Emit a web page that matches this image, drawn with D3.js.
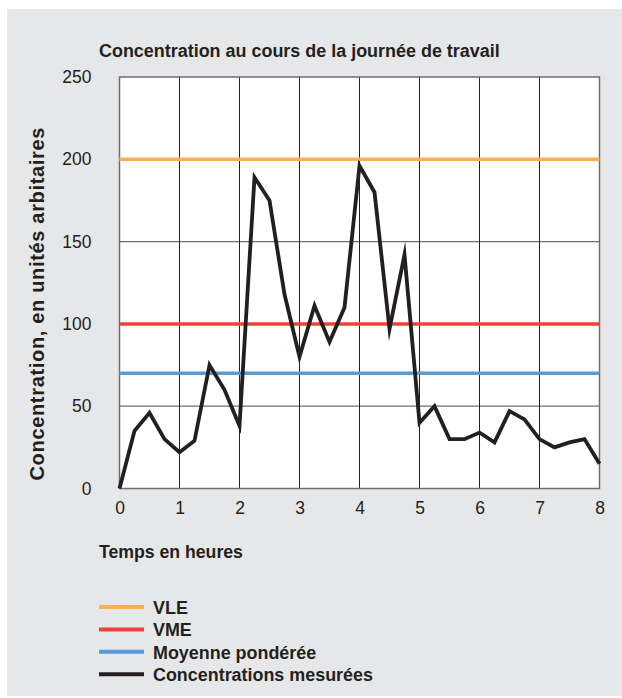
<!DOCTYPE html>
<html><head><meta charset="utf-8">
<script src="https://cdn.jsdelivr.net/npm/d3@7"></script>
<style>
html,body{margin:0;padding:0;background:#fff;}
svg text{font-family:"Liberation Sans",Arial,Helvetica,sans-serif;fill:#231f20;}
</style></head>
<body>
<svg id="chart" width="622" height="698"></svg>
<script>
const hours = [0,0.25,0.5,0.75,1,1.25,1.5,1.75,2,2.25,2.5,2.75,3,3.25,3.5,3.75,4,4.25,4.5,4.75,5,5.25,5.5,5.75,6,6.25,6.5,6.75,7,7.25,7.5,7.75,8];
const concentrations = [0,35,46,30,22,29,75,60,38,189,175,118,80,111,89,110,196,180,97,142,40,50,30,30,34,28,47,42,30,25,28,30,15];
const refNames = ["VLE","VME","Moyenne pondérée"];
const refValues = [200,100,70];
const refColors = ["#fbad5c","#ef4136","#5b9bd5"];
const lineColor = "#231f20";
const xTicks = [0,1,2,3,4,5,6,7,8];
const yTicks = [0,50,100,150,200,250];
const legendNames = ["VLE","VME","Moyenne pondérée","Concentrations mesurées"];
const legendColors = ["#fbad5c","#ef4136","#5b9bd5","#231f20"];

const svg = d3.select("#chart");
svg.append("rect").attr("x",7).attr("y",9).attr("width",615).attr("height",687).attr("fill","#e6e7e8");

const x = d3.scaleLinear().domain([0,8]).range([119.5,599.5]);
const y = d3.scaleLinear().domain([0,250]).range([488.5,77]);

function fit(sel, target, base){
  sel.attr("font-size", base);
  const w = sel.node().getComputedTextLength();
  const s = base*target/w;
  sel.attr("font-size", s);
  return s;
}

svg.append("rect").attr("x",x(0)).attr("y",y(250)).attr("width",x(8)-x(0)).attr("height",y(0)-y(250)).attr("fill","#fff");

svg.append("g").selectAll("line").data(yTicks.filter(d=>d>0 && d<250)).join("line")
  .attr("x1",x(0)).attr("x2",x(8)).attr("y1",d=>y(d)).attr("y2",d=>y(d))
  .attr("stroke","#6d6e71").attr("stroke-width",1.2);
svg.append("g").selectAll("line").data(xTicks.filter(d=>d>0 && d<8)).join("line")
  .attr("x1",d=>x(d)).attr("x2",d=>x(d)).attr("y1",y(0)).attr("y2",y(250))
  .attr("stroke","#231f20").attr("stroke-width",1);
svg.append("rect").attr("x",x(0)).attr("y",y(250)).attr("width",x(8)-x(0)).attr("height",y(0)-y(250))
  .attr("fill","none").attr("stroke","#6d6e71").attr("stroke-width",1.5);

svg.append("g").selectAll("line").data(refValues).join("line")
  .attr("x1",x(0)).attr("x2",x(8)).attr("y1",d=>y(d)).attr("y2",d=>y(d))
  .attr("stroke",(d,i)=>refColors[i]).attr("stroke-width",3.5);

const line = d3.line().x((d,i)=>x(hours[i])).y(d=>y(d));
svg.append("path").datum(concentrations).attr("d",line)
  .attr("fill","none").attr("stroke",lineColor).attr("stroke-width",3.8)
  .attr("stroke-linejoin","miter").attr("stroke-miterlimit",10);

const yAxis = d3.axisLeft(y).tickValues(yTicks).tickSize(0).tickPadding(28);
const gy = svg.append("g").attr("transform",`translate(${x(0)},0)`).call(yAxis);
gy.select(".domain").remove();
gy.selectAll("text").attr("font-size",17.5).attr("fill","#231f20").style("font-family",'"Liberation Sans",Arial,sans-serif');

const xAxis = d3.axisBottom(x).tickValues(xTicks).tickSize(0).tickPadding(13);
const gx = svg.append("g").attr("transform",`translate(0,${y(0)})`).call(xAxis);
gx.select(".domain").remove();
gx.selectAll("text").attr("font-size",17.5).attr("fill","#231f20").style("font-family",'"Liberation Sans",Arial,sans-serif');

const title = svg.append("text").attr("x",99).attr("y",57).attr("font-weight","bold")
  .text("Concentration au cours de la journée de travail");
fit(title, 401, 16);

const yl = svg.append("text").attr("transform","translate(44,304) rotate(-90)").attr("text-anchor","middle")
  .attr("font-size",20).attr("font-weight","bold")
  .attr("textLength",353).attr("lengthAdjust","spacing")
  .text("Concentration, en unités arbitaires");

const xl = svg.append("text").attr("x",99).attr("y",558).attr("font-weight","bold").text("Temps en heures");
fit(xl, 144, 16);

const leg = svg.append("g").selectAll("g").data(legendNames).join("g")
  .attr("transform",(d,i)=>`translate(99,${607+i*22.4})`);
leg.append("line").attr("x1",0).attr("x2",45).attr("y1",0).attr("y2",0)
  .attr("stroke",(d,i)=>legendColors[i]).attr("stroke-width",4);
const lt = leg.append("text").attr("x",54).attr("y",7).attr("font-weight","bold").text(d=>d);
const ls = fit(d3.select(lt.nodes()[3]), 220, 16);
lt.attr("font-size", ls);
</script>
</body></html>
